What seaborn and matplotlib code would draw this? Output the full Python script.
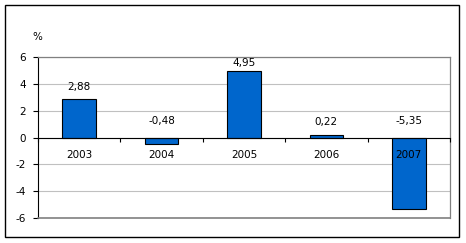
import matplotlib
matplotlib.use("Agg")
import matplotlib.pyplot as plt
import seaborn as sns
import pandas as pd
from matplotlib.patches import Rectangle

years = ["2003", "2004", "2005", "2006", "2007"]
values = [2.88, -0.48, 4.95, 0.22, -5.35]
value_labels = ["2,88", "-0,48", "4,95", "0,22", "-5,35"]
y_ticks = [-6, -4, -2, 0, 2, 4, 6]
unit_label = "%"

sns.set_theme(style="white")
plt.rcParams["font.family"] = ["DejaVu Sans"]

df = pd.DataFrame({"year": years, "value": values})

fig = plt.figure(figsize=(4.66, 2.43), dpi=100)
ax = fig.add_axes([38 / 466, 1 - 218 / 243, 412 / 466, 161 / 243])

sns.barplot(data=df, x="year", y="value", color="#0066CC", saturation=1,
            width=0.41, edgecolor="black", linewidth=0.8, ax=ax)

ax.set_ylim(-6, 6)
ax.set_xlim(-0.5, len(years) - 0.5)
ax.set_yticks(y_ticks)
ax.set_yticklabels([str(t) for t in y_ticks], fontsize=7.5)
ax.set_xlabel("")
ax.set_ylabel("")

# grid
ax.yaxis.grid(True, color="#C0C0C0", linewidth=0.8)
ax.set_axisbelow(True)
ax.xaxis.set_zorder(5)

# spines
ax.spines["bottom"].set_position(("data", 0))
ax.spines["bottom"].set_color("black")
ax.spines["bottom"].set_linewidth(0.8)
ax.spines["left"].set_color("black")
ax.spines["left"].set_linewidth(0.8)
ax.spines["top"].set_color("#808080")
ax.spines["right"].set_color("#808080")
ax.spines["top"].set_linewidth(0.9)
ax.spines["right"].set_linewidth(0.9)
ax.axhline(-6, color="#808080", linewidth=1.2, clip_on=False, zorder=3)

# ticks
ax.tick_params(axis="y", which="major", direction="out", length=3.5,
               width=0.8, color="black", left=True, pad=5, labelcolor="black")
ax.set_xticks(range(len(years)))
ax.set_xticklabels(years, fontsize=7.5)
ax.set_xticks([i - 0.5 for i in range(len(years) + 1)], minor=True)
ax.tick_params(axis="x", which="major", length=0, pad=9, labelcolor="black")
ax.tick_params(axis="x", which="minor", direction="out", length=3, width=0.8,
               color="black", bottom=True)

# value labels (above bar end, or above zero for negatives; kept inside plot)
ymax = ax.get_ylim()[1]
for i, (v, lab) in enumerate(zip(values, value_labels)):
    off = 0.9 if v > 0 else 1.2
    y = min(max(v, 0) + off, ymax - 0.45)
    ax.text(i, y, lab, ha="center", va="center", fontsize=7.5, color="black")

# unit label
fig.text(37 / 466, 1 - 37 / 243, unit_label, ha="center", va="center",
         fontsize=7.5, color="black")

# outer border
fig.patches.append(Rectangle((5 / 466, 1 - 237 / 243), 454 / 466, 232 / 243,
                             transform=fig.transFigure, fill=False,
                             edgecolor="black", linewidth=1.0))

fig.savefig("out.png", dpi=100)
